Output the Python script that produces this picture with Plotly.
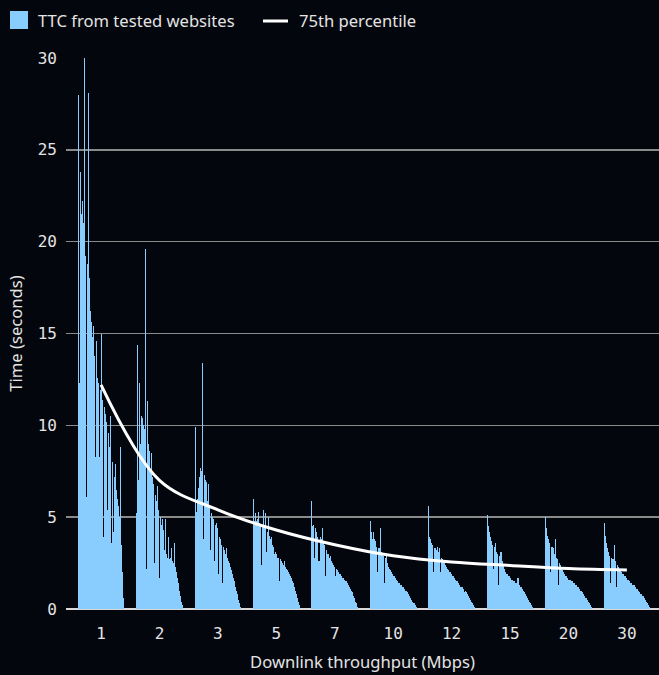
import plotly.graph_objects as go

W, H = 659, 675
BG = "#04060d"
BAR_BLUE = "#88cdfd"
TEXT = "#e4e4e4"
GRID = "#8a8a8a"
MONO = "DejaVu Sans Mono"
SANS = "Noto Sans"
SANS_SIZE = 16.6

# Downlink throughput buckets (Mbps)
categories = ["1", "2", "3", "5", "7", "10", "12", "15", "20", "30"]

# Time to content (s) per tested website, read left to right inside each bucket
ttc_1 = [28.0, 12.3, 23.8, 21.5, 22.2, 21.0, 30.0, 19.2, 6.1, 18.8, 28.1, 18.0,
         16.2, 15.6, 14.8, 15.4, 13.8, 8.3, 14.6, 12.6, 12.3, 8.3, 11.9, 15.0,
         11.4, 3.9, 11.0, 10.6, 10.2, 5.4, 9.6, 8.8, 10.5, 3.6, 7.8, 8.0, 4.2,
         7.2, 7.9, 6.5, 6.0, 5.6, 5.0, 8.8, 3.5, 2.0, 0.6]
ttc_2 = [5.2, 14.4, 7.0, 12.3, 9.0, 10.5, 10.4, 10.0, 9.8, 19.6, 2.2, 11.3,
         9.0, 8.6, 7.6, 8.5, 7.2, 6.8, 2.5, 6.2, 5.9, 6.7, 5.4, 1.7, 5.0, 4.6,
         4.9, 4.3, 3.2, 4.9, 3.0, 2.8, 3.9, 2.7, 2.8, 3.3, 2.6, 2.5, 3.6, 2.3,
         2.0, 1.7, 1.4, 1.0, 0.7, 0.4, 0.2]
ttc_3 = [9.9, 5.3, 6.0, 6.6, 7.2, 7.7, 7.6, 7.5, 13.4, 3.8, 7.3, 7.0, 6.9,
         5.9, 6.8, 5.6, 3.2, 5.2, 5.0, 4.9, 2.6, 4.6, 4.7, 4.4, 1.9, 3.9, 3.8,
         3.5, 1.4, 3.4, 3.2, 3.0, 3.3, 2.8, 2.6, 2.5, 2.3, 2.1, 1.9, 1.7, 1.5,
         1.2, 1.0, 0.8, 0.5, 0.3, 0.1]
ttc_5 = [6.0, 4.8, 5.2, 4.8, 4.9, 5.3, 4.7, 4.6, 2.4, 4.5, 5.4, 4.4, 5.2,
         3.1, 4.2, 5.0, 4.0, 3.8, 3.9, 3.5, 3.4, 3.0, 3.1, 3.0, 2.8, 2.8, 1.5,
         2.7, 2.6, 2.5, 2.4, 2.6, 2.3, 2.2, 2.1, 2.0, 1.9, 1.8, 1.7, 1.5, 1.4,
         1.2, 1.0, 0.8, 0.6, 0.4, 0.2]
ttc_7 = [5.9, 4.5, 4.6, 2.8, 4.4, 4.2, 3.9, 2.6, 3.9, 3.8, 4.4, 3.6, 3.5,
         1.8, 3.2, 3.0, 3.0, 2.8, 2.9, 2.6, 2.5, 2.4, 2.3, 1.8, 2.2, 2.1, 2.0,
         1.9, 1.9, 1.8, 1.7, 1.7, 1.6, 1.5, 1.5, 1.4, 1.3, 1.2, 1.1, 1.0, 0.9,
         0.7, 0.6, 0.4, 0.3, 0.1]
ttc_10 = [4.8, 4.2, 3.8, 4.2, 3.8, 3.7, 3.4, 2.0, 3.3, 3.3, 4.4, 3.1, 3.0,
          2.9, 1.4, 2.8, 3.0, 2.5, 2.3, 2.2, 2.1, 2.0, 1.9, 1.8, 1.8, 1.7, 1.6,
          1.5, 1.4, 1.4, 1.3, 1.3, 1.2, 1.2, 1.1, 1.0, 1.0, 0.9, 0.8, 0.7, 0.6,
          0.5, 0.4, 0.3, 0.2, 0.1]
ttc_12 = [5.6, 3.9, 3.8, 3.6, 3.5, 2.0, 3.3, 3.2, 3.4, 3.1, 3.3, 2.0, 2.8,
          2.7, 2.6, 2.5, 2.4, 2.3, 2.2, 2.1, 2.0, 2.0, 1.9, 1.8, 1.8, 1.7, 1.6,
          1.5, 1.5, 1.4, 1.3, 1.2, 1.2, 1.1, 0.9, 1.0, 0.9, 0.8, 0.7, 0.6, 0.5,
          0.4, 0.3, 0.2, 0.1]
ttc_15 = [5.1, 4.5, 4.2, 3.9, 3.7, 3.5, 2.2, 3.4, 3.6, 3.1, 3.0, 1.3, 2.9,
          3.1, 2.6, 2.4, 2.2, 2.0, 1.9, 1.9, 1.8, 1.8, 1.7, 1.6, 1.6, 1.5, 1.5,
          1.4, 1.4, 1.7, 1.3, 1.2, 1.2, 1.1, 1.0, 0.9, 0.8, 0.7, 0.6, 0.5, 0.4,
          0.3, 0.2, 0.1]
ttc_20 = [5.0, 4.4, 4.0, 3.8, 3.6, 2.0, 3.4, 3.3, 3.0, 3.8, 2.8, 2.7, 1.3,
          2.5, 2.4, 2.2, 2.1, 2.0, 1.9, 1.8, 1.8, 1.7, 1.6, 1.6, 1.5, 1.5, 1.4,
          1.4, 1.3, 1.3, 1.2, 1.2, 1.1, 1.0, 1.0, 0.9, 0.8, 0.7, 0.6, 0.5, 0.4,
          0.3, 0.2, 0.1]
ttc_30 = [4.7, 4.0, 3.6, 3.3, 3.1, 2.9, 1.4, 2.8, 2.7, 3.5, 2.6, 1.2, 2.4,
          2.3, 2.2, 2.1, 2.0, 1.9, 1.8, 1.8, 1.7, 1.6, 1.6, 1.5, 1.4, 1.4, 1.3,
          1.3, 1.2, 1.1, 1.1, 1.0, 0.9, 0.8, 0.8, 0.7, 0.6, 0.5, 0.4, 0.3, 0.2,
          0.1]

# 75th percentile of TTC per bucket
p75 = [12.2, 7.0, 5.4, 4.3, 3.5, 2.9, 2.56, 2.37, 2.2, 2.12]

groups = [ttc_1, ttc_2, ttc_3, ttc_5, ttc_7, ttc_10, ttc_12, ttc_15, ttc_20, ttc_30]

# plot box, in pixels
L, R, T, B = 66, 0, 58, 66
SPAN = 0.8  # share of a bucket covered by its bars


def px_x(px):
    return (px - L) / (W - L - R)


def px_y(py):
    return (H - B - py) / (H - T - B)


xs, ys, ws = [], [], []
for i, vals in enumerate(groups):
    step = SPAN / len(vals)
    for j, v in enumerate(vals):
        xs.append(i - SPAN / 2 + (j + 0.5) * step)
        ys.append(v)
        ws.append(step)

fig = go.Figure()
fig.add_trace(go.Bar(
    x=xs, y=ys, width=ws,
    marker=dict(color=BAR_BLUE, line=dict(width=0)),
    name="TTC from tested websites", showlegend=False,
))
fig.add_trace(go.Scatter(
    x=list(range(len(categories))), y=p75, mode="lines",
    line=dict(color="white", width=3, shape="spline", smoothing=1.0),
    name="75th percentile", showlegend=False,
))

# hand-drawn legend so the swatch can be the same size as in the original
fig.add_shape(type="rect", xref="paper", yref="paper",
              x0=px_x(10), x1=px_x(28), y0=px_y(29), y1=px_y(11),
              fillcolor=BAR_BLUE, line=dict(width=0))
fig.add_shape(type="line", xref="paper", yref="paper",
              x0=px_x(263), x1=px_x(288), y0=px_y(21), y1=px_y(21),
              line=dict(color="white", width=3))
fig.add_annotation(text="TTC from tested websites", xref="paper", yref="paper",
                   x=px_x(36), y=px_y(20), xanchor="left", yanchor="middle",
                   showarrow=False, font=dict(family=SANS, size=SANS_SIZE, color=TEXT))
fig.add_annotation(text="75th percentile", xref="paper", yref="paper",
                   x=px_x(297), y=px_y(20), xanchor="left", yanchor="middle",
                   showarrow=False, font=dict(family=SANS, size=SANS_SIZE, color=TEXT))

fig.update_layout(
    width=W, height=H,
    margin=dict(l=L, r=R, t=T, b=B),
    paper_bgcolor=BG, plot_bgcolor=BG,
    bargap=0,
    showlegend=False,
    font=dict(family=SANS, color=TEXT),
)
fig.update_xaxes(
    range=[-0.6, 9.55],
    tickmode="array", tickvals=list(range(len(categories))), ticktext=categories,
    tickfont=dict(family=MONO, size=16, color=TEXT),
    ticklabelstandoff=13,
    showgrid=False, zeroline=False, showline=False, ticks="",
    title=dict(text="Downlink throughput (Mbps)", standoff=14,
               font=dict(family=SANS, size=SANS_SIZE, color=TEXT)),
    automargin=False,
)
fig.update_yaxes(
    range=[0, 30], dtick=5,
    tickfont=dict(family=MONO, size=16, color=TEXT),
    ticklabelstandoff=8,
    showgrid=True, gridcolor=GRID, gridwidth=1.5,
    zeroline=True, zerolinecolor="#d8d8d8", zerolinewidth=2,
    showline=False, ticks="",
    title=dict(text="Time (seconds)", standoff=10,
               font=dict(family=SANS, size=SANS_SIZE, color=TEXT)),
    automargin=False,
)

fig.write_html(
    "out.html",
    config={"staticPlot": True},
    post_script="document.body.style.margin = '0';",
)
